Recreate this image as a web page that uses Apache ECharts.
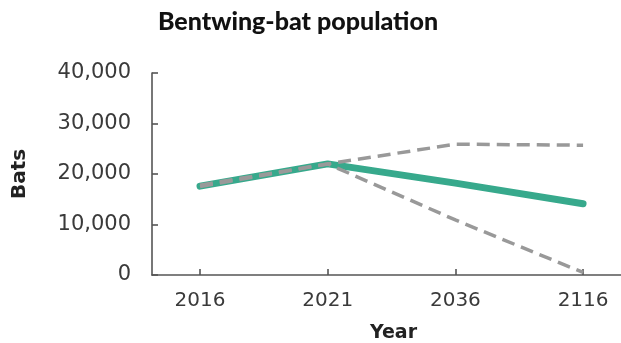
<!DOCTYPE html>
<html><head><meta charset="utf-8">
<script src="https://cdn.jsdelivr.net/npm/echarts@6/dist/echarts.min.js"></script>
<style>html,body{margin:0;padding:0;background:#fff}#c{width:621px;height:343px}</style>
</head><body><div id="c"></div>
<script>
const years = ['2016', '2021', '2036', '2116'];
const yTicks = [0, 10000, 20000, 30000, 40000];
const central = [17600, 22000, 18200, 14100];
const upper = [17800, 22000, 25900, 25700];
const lower = [17500, 22000, 10900, 500];

const pts = arr => arr.map((v, i) => [i, v]);
const font = '"DejaVu Sans", sans-serif';
const chart = echarts.init(document.getElementById('c'), null, {renderer: 'canvas'});
chart.setOption({
  animation: false,
  title: {
    text: 'Bentwing-bat population', left: 293, top: 4, textAlign: 'center',
    textStyle: {fontFamily: 'Lato, sans-serif', fontWeight: 900, fontSize: 25, color: '#111'}
  },
  grid: {left: 152, top: 73, right: 0, bottom: 68, outerBoundsMode: 'none', containLabel: false},
  xAxis: {
    type: 'value', min: -0.376, max: 3.297,
    name: 'Year', nameLocation: 'middle', nameGap: 49,
    nameTextStyle: {fontFamily: font, fontWeight: 'bold', fontSize: 19, color: '#222', padding: [0, 0, 0, 14]},
    splitLine: {show: false},
    axisLine: {show: true, onZero: false, lineStyle: {color: '#555', width: 1.6}},
    axisTick: {show: true, inside: true, length: 6, customValues: [0, 1, 2, 3], lineStyle: {color: '#555', width: 1.6}},
    axisLabel: {customValues: [0, 1, 2, 3], formatter: v => years[Math.round(v)], margin: 16,
      fontFamily: font, fontSize: 20, color: '#3a3a3a'}
  },
  yAxis: {
    type: 'value', min: 0, max: 40000, interval: 10000,
    name: 'Bats', nameLocation: 'middle', nameGap: 122, nameRotate: 90,
    nameTextStyle: {fontFamily: font, fontWeight: 'bold', fontSize: 20, color: '#222'},
    splitLine: {show: false},
    axisLine: {show: true, onZero: false, lineStyle: {color: '#555', width: 1.6}},
    axisTick: {show: true, inside: true, length: 6, lineStyle: {color: '#555', width: 1.6}},
    axisLabel: {margin: 21, fontFamily: font, fontSize: 21, color: '#3a3a3a',
      formatter: v => yTicks.includes(v) ? v.toLocaleString('en-US') : ''}
  },
  series: [
    {type: 'line', data: pts(central), symbol: 'none', z: 2,
      lineStyle: {color: '#37a98c', width: 7, cap: 'round', join: 'round'}},
    {type: 'line', data: pts(upper), symbol: 'none', z: 3,
      lineStyle: {color: '#999', width: 3.5, type: [13, 7]}},
    {type: 'line', data: pts(lower), symbol: 'none', z: 3,
      lineStyle: {color: '#999', width: 3.5, type: [13, 7]}}
  ]
});
</script></body></html>
